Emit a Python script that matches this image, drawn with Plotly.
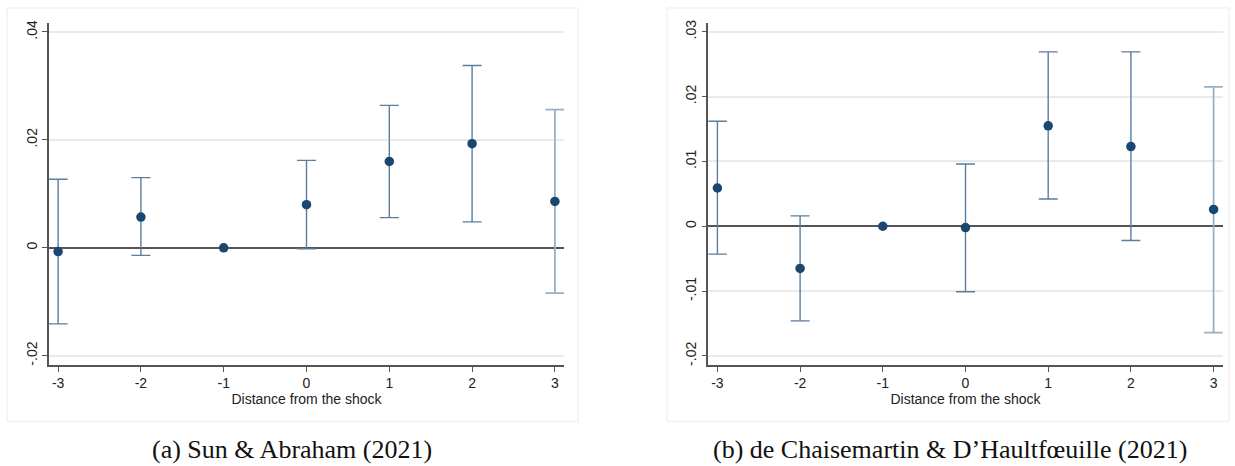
import plotly.graph_objects as go

# ---- data ----
dist = [-3, -2, -1, 0, 1, 2, 3]

# (a) Sun & Abraham (2021)
sa_coef = [-0.0007, 0.0057, 0.0, 0.0080, 0.0160, 0.0193, 0.0086]
sa_hi = [0.0127, 0.0130, None, 0.0162, 0.0264, 0.0338, 0.0256]
sa_lo = [-0.0141, -0.0014, None, -0.0002, 0.0056, 0.0048, -0.0084]

# (b) de Chaisemartin & D'Haultfoeuille (2021)
dc_coef = [0.0059, -0.0065, 0.0, -0.0002, 0.0155, 0.0123, 0.0026]
dc_hi = [0.0162, 0.0016, None, 0.0096, 0.0269, 0.0269, 0.0215]
dc_lo = [-0.0043, -0.0146, None, -0.0101, 0.0042, -0.0022, -0.0164]

sa_yticks = [-0.02, 0, 0.02, 0.04]
sa_yticktext = ["-.02", "0", ".02", ".04"]
dc_yticks = [-0.02, -0.01, 0, 0.01, 0.02, 0.03]
dc_yticktext = ["-.02", "-.01", "0", ".01", ".02", ".03"]

x_title = "Distance from the shock"
captions = ["(a) Sun & Abraham (2021)", "(b) de Chaisemartin & D\u2019Haultf\u0153uille (2021)"]

# ---- style ----
W, H = 1235, 466
NAVY = "#1a476f"
CI_COL = "rgb(92,125,158)"
CI_LIGHT = "rgb(152,175,199)"
AXIS_COL = "#555555"
GRID_COL = "#eaeaea"

fig = go.Figure()


def add_panel(coef, hi, lo, xa, ya):
    idx = [i for i in range(len(dist)) if hi[i] is not None]
    groups = [([i for i in idx if i != len(dist) - 1], CI_COL, 1.4),
              ([i for i in idx if i == len(dist) - 1], CI_LIGHT, 1.8)]
    for ids, col, th in groups:
        fig.add_trace(go.Scatter(
            x=[dist[i] for i in ids], y=[coef[i] for i in ids],
            mode="markers", marker=dict(size=1, opacity=0),
            error_y=dict(type="data", symmetric=False,
                         array=[hi[i] - coef[i] for i in ids],
                         arrayminus=[coef[i] - lo[i] for i in ids],
                         color=col, thickness=th, width=9.5),
            xaxis=xa, yaxis=ya, showlegend=False, hoverinfo="skip"))
    fig.add_trace(go.Scatter(
        x=dist, y=coef, mode="markers",
        marker=dict(size=9.5, color=NAVY),
        xaxis=xa, yaxis=ya, showlegend=False))


add_panel(sa_coef, sa_hi, sa_lo, "x", "y")
add_panel(dc_coef, dc_hi, dc_lo, "x2", "y2")

ydom = [1 - 365 / H, 1 - 20 / H]
font_ax = dict(family="Liberation Sans, Arial, sans-serif", size=14, color="#222222")

xcommon = dict(range=[-3.11, 3.11], tickvals=dist, ticktext=[str(v) for v in dist],
               showline=True, linecolor=AXIS_COL, linewidth=1.5,
               ticks="outside", ticklen=5, tickcolor=AXIS_COL, tickwidth=1.2,
               showgrid=False, zeroline=False, tickfont=font_ax,
               title=dict(text=x_title, font=font_ax, standoff=0))
ycommon = dict(showline=True, linecolor=AXIS_COL, linewidth=1.5,
               ticks="outside", ticklen=5, tickcolor=AXIS_COL, tickwidth=1.2,
               showgrid=True, gridcolor=GRID_COL, gridwidth=1.5,
               zeroline=True, zerolinecolor=AXIS_COL, zerolinewidth=1.5,
               tickangle=-90, tickfont=font_ax)

fig.update_layout(
    width=W, height=H,
    margin=dict(l=0, r=0, t=0, b=0),
    paper_bgcolor="white", plot_bgcolor="white",
    xaxis=dict(domain=[49 / W, 564 / W], anchor="y", **xcommon),
    yaxis=dict(domain=ydom, anchor="x", range=[-0.0217, 0.0417],
               tickvals=sa_yticks, ticktext=sa_yticktext, **ycommon),
    xaxis2=dict(domain=[708.3 / W, 1222.7 / W], anchor="y2", **xcommon),
    yaxis2=dict(domain=ydom, anchor="x2", range=[-0.02138, 0.03138],
                tickvals=dc_yticks, ticktext=dc_yticktext, **ycommon),
)

# panel frames
for x0, x1 in [(7, 578), (667, 1229)]:
    fig.add_shape(type="rect", xref="paper", yref="paper",
                  x0=x0 / W, x1=x1 / W, y0=1 - 422 / H, y1=1 - 5 / H,
                  line=dict(color="#ececec", width=1), layer="below")

# captions
for cx, txt in [(292, captions[0]), (950, captions[1])]:
    fig.add_annotation(x=cx / W, y=1 - 450 / H, xref="paper", yref="paper",
                       text=txt, showarrow=False, xanchor="center", yanchor="middle",
                       font=dict(family="Liberation Serif, Times New Roman, serif",
                                 size=26, color="#111111"))

fig.write_html("out.html", config={"displayModeBar": False},
               post_script="document.body.style.margin='0px';document.body.style.overflow='hidden';")
